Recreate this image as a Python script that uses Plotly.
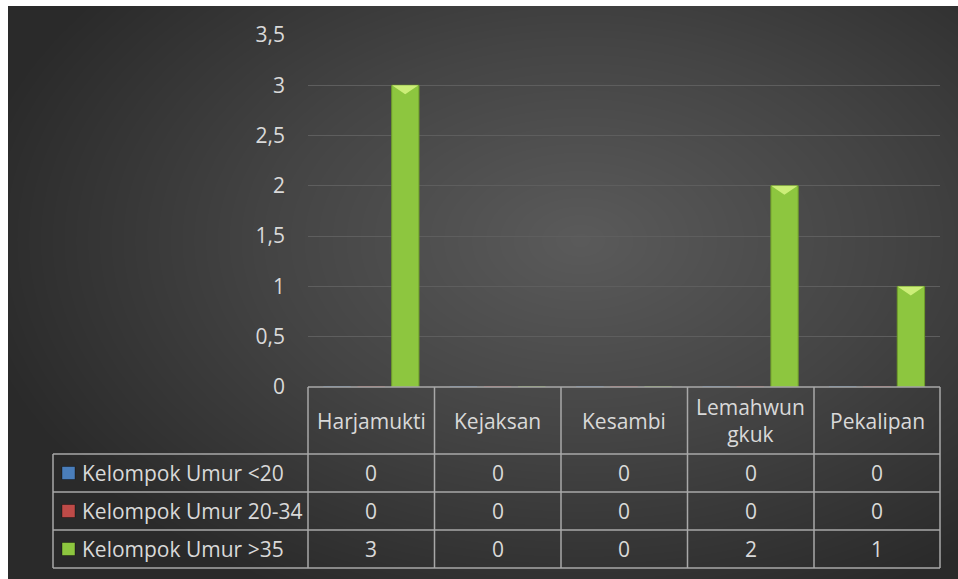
import numpy as np
import plotly.graph_objects as go

categories = ["Harjamukti", "Kejaksan", "Kesambi", "Lemahwungkuk", "Pekalipan"]
header_labels = ["Harjamukti", "Kejaksan", "Kesambi", "Lemahwun<br>gkuk", "Pekalipan"]
series_names = ["Kelompok Umur <20", "Kelompok Umur 20-34", "Kelompok Umur >35"]
umur_lt20 = [0, 0, 0, 0, 0]
umur_20_34 = [0, 0, 0, 0, 0]
umur_gt35 = [3, 0, 0, 2, 1]
series_values = [umur_lt20, umur_20_34, umur_gt35]
series_colors = ["#4a7ebb", "#be4b48", "#8dc63f"]
series_lines = ["#3a6aa0", "#a03a38", "#6f9e2a"]
y_ticks = [0, 0.5, 1, 1.5, 2, 2.5, 3, 3.5]
y_max = 3.5

W, H = 958, 579
L, R, T, B = 308, 940, 35, 387  # plot area in page px
FS = 21
TXT = "#d9d9d9"


def px(x):
    return x / W


def py(y):
    return 1 - y / H


fig = go.Figure()

# background radial gradient (styling only)
gx = np.linspace(8, W, 120)
gy = np.linspace(6, H, 80)
XX, YY = np.meshgrid(gx, gy)
dist = np.sqrt(((XX - 580) / 560) ** 2 + ((YY - 240) / 360) ** 2)
fig.add_trace(go.Heatmap(
    x=gx, y=gy, z=np.clip(dist, 0, 1.1), zsmooth="best", showscale=False,
    colorscale=[[0, "#5a5a5a"], [0.5, "#444444"], [1, "#2a2a2a"]],
    hoverinfo="skip", xaxis="x", yaxis="y"))

xs = list(range(len(categories)))
for name, vals, col, lc in zip(series_names, series_values, series_colors, series_lines):
    fig.add_trace(go.Bar(
        x=xs, y=vals, name=name, marker=dict(color=col, line=dict(color=lc, width=1)),
        xaxis="x2", yaxis="y2", showlegend=False))

# bevel highlight on top of green bars (derived from the data values)
green_off = 0.269
half_w = 0.105
bevel_h = 9 * y_max / (B - T)
bx, by = [], []
for i, v in enumerate(umur_gt35):
    if v > 0:
        c = i + green_off
        bx += [c - half_w, c + half_w, c, c - half_w, None]
        by += [v, v, v - bevel_h, v, None]
fig.add_trace(go.Scatter(
    x=bx, y=by, mode="lines", fill="toself", fillcolor="rgba(215,245,130,0.85)",
    line=dict(width=0, color="rgba(0,0,0,0)"),
    xaxis="x2", yaxis="y2", showlegend=False, hoverinfo="skip"))

fig.update_layout(
    width=W, height=H, margin=dict(l=0, r=0, t=0, b=0, pad=0, autoexpand=False),
    paper_bgcolor="white", plot_bgcolor="rgba(0,0,0,0)",
    separators=", ",
    barmode="group", bargap=0.19, bargroupgap=0.2,
    xaxis=dict(domain=[8 / W, 1], range=[8, W], visible=False, fixedrange=True,
               automargin=False),
    yaxis=dict(domain=[0, 1 - 6 / H], range=[H, 6], visible=False, fixedrange=True,
               automargin=False),
    xaxis2=dict(domain=[px(L), px(R)], range=[-0.5, 4.5], anchor="y2", automargin=False,
                showticklabels=False, showgrid=False, zeroline=False, showline=False),
    yaxis2=dict(domain=[py(B), py(T)], range=[0, y_max], anchor="x2", automargin=False,
                tickvals=y_ticks, showgrid=True, gridcolor="#5e5e5e", gridwidth=1,
                zeroline=False, showline=False, ticks="",
                tickfont=dict(family="Open Sans", size=FS, color=TXT),
                ticklabelstandoff=22),
    font=dict(family="Open Sans", color=TXT),
)

line_col = "#a8a8a8"
shapes = []
col_edges = [308, 434.5, 561, 687.5, 814, 940]
row_edges = [387, 454, 492, 530, 568]
leg_left = 53


def hline(x0, x1, y):
    shapes.append(dict(type="line", xref="paper", yref="paper", x0=px(x0), x1=px(x1),
                       y0=py(y), y1=py(y), line=dict(color=line_col, width=1.5)))


def vline(x, y0, y1):
    shapes.append(dict(type="line", xref="paper", yref="paper", x0=px(x), x1=px(x),
                       y0=py(y0), y1=py(y1), line=dict(color=line_col, width=1.5)))


hline(col_edges[0], col_edges[-1], row_edges[0])
for y in row_edges[1:]:
    hline(leg_left, col_edges[-1], y)
for x in col_edges:
    vline(x, row_edges[0], row_edges[-1])
vline(leg_left, row_edges[1], row_edges[-1])

annotations = []
for i, lab in enumerate(header_labels):
    cx = (col_edges[i] + col_edges[i + 1]) / 2
    cy = (row_edges[0] + row_edges[1]) / 2
    annotations.append(dict(text=lab, x=px(cx), y=py(cy), xref="paper", yref="paper",
                            showarrow=False, xanchor="center", yanchor="middle",
                            font=dict(size=FS, color=TXT), align="center"))

for r, (name, vals, col) in enumerate(zip(series_names, series_values, series_colors)):
    cy = (row_edges[r + 1] + row_edges[r + 2]) / 2
    shapes.append(dict(type="rect", xref="paper", yref="paper",
                       x0=px(62), x1=px(75), y0=py(cy - 6.5), y1=py(cy + 6.5),
                       fillcolor=col, line=dict(color="rgba(0,0,0,0.35)", width=1)))
    annotations.append(dict(text=name, x=px(80), y=py(cy), xref="paper", yref="paper",
                            showarrow=False, xanchor="left", yanchor="middle",
                            font=dict(size=FS, color=TXT)))
    for i, v in enumerate(vals):
        cx = (col_edges[i] + col_edges[i + 1]) / 2
        annotations.append(dict(text=str(v), x=px(cx), y=py(cy), xref="paper", yref="paper",
                                showarrow=False, xanchor="center", yanchor="middle",
                                font=dict(size=FS, color=TXT)))

fig.update_layout(shapes=shapes, annotations=annotations)
fig.write_html("out.html", config={"displayModeBar": False},
               post_script="document.body.style.margin='0';")
